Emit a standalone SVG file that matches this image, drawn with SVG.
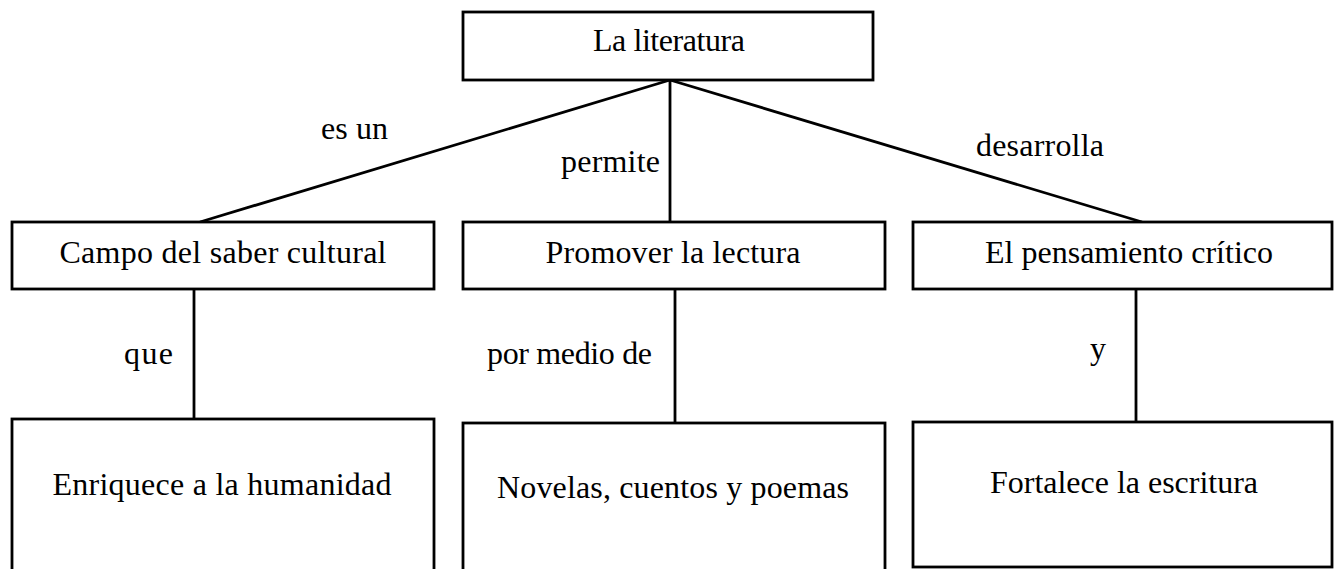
<svg xmlns="http://www.w3.org/2000/svg" width="1337" height="569" viewBox="0 0 1337 569">
<style>
  rect { fill: #ffffff; stroke: #000000; stroke-width: 2.8; }
  line { stroke: #000000; stroke-width: 2.8; }
  text { font-family: "Liberation Serif", "Times New Roman", serif; font-size: 32px; fill: #000000; }
  .c { text-anchor: middle; }
</style>
<rect x="0" y="0" width="1337" height="569" style="stroke:none"/>
<g id="connectors">
  <line x1="670" y1="80" x2="200" y2="222"/>
  <line x1="670" y1="80" x2="670" y2="222"/>
  <line x1="670" y1="80" x2="1142" y2="222"/>
  <line x1="194" y1="289" x2="194" y2="423"/>
  <line x1="675" y1="289" x2="675" y2="423"/>
  <line x1="1136" y1="289" x2="1136" y2="422"/>
  <text x="321" y="139" textLength="67">es un</text>
  <text x="561" y="172" textLength="99">permite</text>
  <text x="976" y="156" textLength="128">desarrolla</text>
  <text x="124" y="364" textLength="49">que</text>
  <text x="487" y="364" textLength="165">por medio de</text>
  <text x="1090" y="359">y</text>
</g>
<g id="n-literatura">
  <rect x="463" y="12" width="410" height="68"/>
  <text class="c" x="669" y="51" textLength="152">La literatura</text>
</g>
<g id="n-campo">
  <rect x="12" y="222" width="422" height="67"/>
  <text class="c" x="223" y="263" textLength="327">Campo del saber cultural</text>
</g>
<g id="n-promover">
  <rect x="463" y="222" width="422" height="67"/>
  <text class="c" x="673" y="263" textLength="255">Promover la lectura</text>
</g>
<g id="n-pensamiento">
  <rect x="913" y="222" width="419" height="67"/>
  <text class="c" x="1129" y="263" textLength="288">El pensamiento crítico</text>
</g>
<g id="n-enriquece">
  <rect x="12" y="419" width="422" height="160"/>
  <text class="c" x="222" y="495" textLength="339">Enriquece a la humanidad</text>
</g>
<g id="n-novelas">
  <rect x="463" y="423" width="422" height="160"/>
  <text class="c" x="673" y="498" textLength="352">Novelas, cuentos y poemas</text>
</g>
<g id="n-fortalece">
  <rect x="913" y="422" width="419" height="145"/>
  <text class="c" x="1124" y="493" textLength="268">Fortalece la escritura</text>
</g>
</svg>
